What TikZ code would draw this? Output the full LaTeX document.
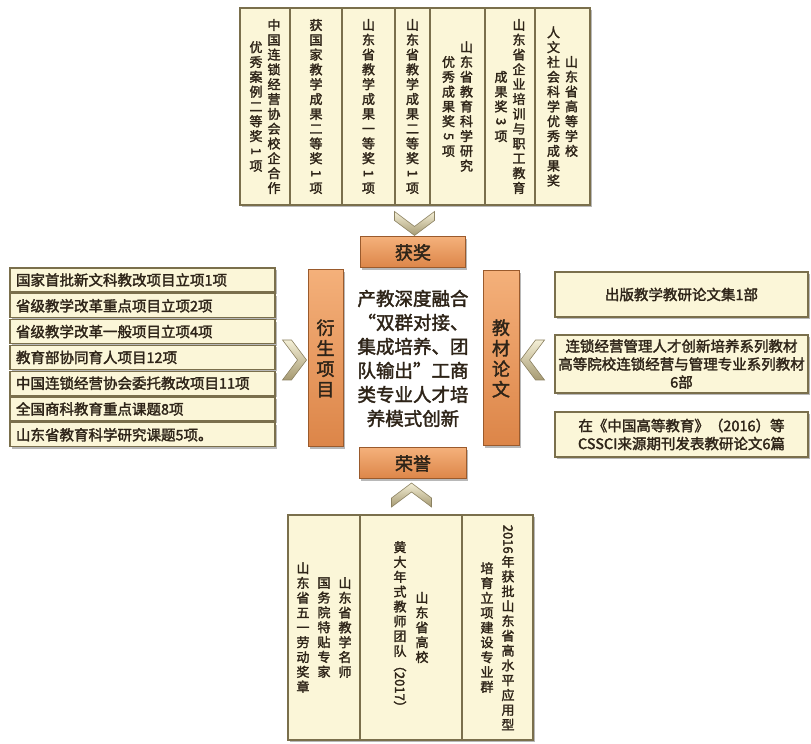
\documentclass[tikz,border=0pt]{standalone}
\usepackage{fontspec}
\setmainfont{Noto Sans CJK SC}[FakeBold=2]
\usepackage{graphicx}
\usetikzlibrary{positioning,calc,shadows,backgrounds}

\definecolor{cream}{HTML}{FBF6D8}
\definecolor{corefill}{HTML}{FDFAE6}
\definecolor{boxline}{HTML}{7A6F4C}
\definecolor{ink}{HTML}{2E2418}
\definecolor{tagtop}{HTML}{F4B07A}
\definecolor{tagbot}{HTML}{DC8548}
\definecolor{tagline}{HTML}{9A5A2C}
\definecolor{chevlight}{HTML}{F4EFD6}
\definecolor{chevdark}{HTML}{A69A72}
\definecolor{chevline}{HTML}{8C8262}

% one upright column of characters, read top to bottom
\makeatletter
\newcommand\vcol[1]{$\vcenter{\baselineskip=1.14em\lineskiplimit=0pt\lineskip=0.15em
  \@tfor\vc@ch:=#1\do{\hbox to 1em{\hss\vc@ch\hss}}}$}
\makeatother
\newcommand\rotd[1]{\rotatebox[origin=c]{-90}{#1}}

\begin{document}
\begin{tikzpicture}[x=1pt,y=1pt]
  \tikzset{paper/.style = {draw=boxline, fill=cream, line width=1.2pt, outer sep=0pt, inner sep=0pt, text=ink,
      drop shadow={shadow xshift=1.5pt, shadow yshift=-2pt, fill=black!55}}}
  \tikzset{prizebox/.style = {paper, minimum height=197pt, font=\fontsize{13}{15}\selectfont}}
  \tikzset{honorbox/.style = {paper, minimum height=225pt, font=\fontsize{13}{15}\selectfont}}
  \tikzset{projbox/.style = {paper, minimum width=265pt, minimum height=24pt, text width=253pt, align=left,
      font=\fontsize{14.5}{17}\selectfont}}
  \tikzset{pubbox/.style = {paper, minimum width=253pt, text width=249pt, align=center,
      font=\fontsize{14.5}{18}\selectfont}}
  \tikzset{coretext/.style = {minimum width=136pt, minimum height=175pt, inner sep=0pt, outer sep=0pt,
      align=center, text=ink, font=\fontsize{18.5}{24}\selectfont}}
  \tikzset{corebox/.style = {draw=boxline, fill=corefill, line width=1.2pt,
      drop shadow={shadow xshift=1.5pt, shadow yshift=-2pt, fill=black!55}}}
  \tikzset{tagbar/.style = {draw=tagline, line width=1pt, top color=tagtop, bottom color=tagbot, text=ink,
      inner sep=0pt, outer sep=0pt, font=\fontsize{18}{20}\selectfont,
      drop shadow={shadow xshift=1.5pt, shadow yshift=-2pt, fill=black!55}}}
  \tikzset{chevron/.pic = {\draw[draw=chevline, line width=0.6pt, top color=chevlight, bottom color=chevdark]
      (-12,20) -- (-3,20) -- (12,0) -- (-3,-20) -- (-12,-20) -- (3,0) -- cycle;}}

  \useasboundingbox[fill=white] (0,0) rectangle (811,744);

  % awards along the top
  \node[prizebox, minimum width=50pt, anchor=west] (prize1) at (240,637.5)
    {\vcol{优秀案例二等奖{\rotd{1}}项}\hspace{5pt}\vcol{中国连锁经营协会校企合作}};
  \node[prizebox, minimum width=52pt, right=0pt of prize1] (prize2) {\vcol{获国家教学成果二等奖{\rotd{1}}项}};
  \node[prizebox, minimum width=53pt, right=0pt of prize2] (prize3) {\vcol{山东省教学成果一等奖{\rotd{1}}项}};
  \node[prizebox, minimum width=35pt, right=0pt of prize3] (prize4) {\vcol{山东省教学成果二等奖{\rotd{1}}项}};
  \node[prizebox, minimum width=55pt, right=0pt of prize4] (prize5)
    {\vcol{优秀成果奖{\rotd{5}}项}\hspace{5pt}\vcol{山东省教育科学研究}};
  \node[prizebox, minimum width=50pt, right=0pt of prize5] (prize6)
    {\vcol{成果奖{\rotd{3}}项}\hspace{5pt}\vcol{山东省企业培训与职工教育}};
  \node[prizebox, minimum width=55pt, right=0pt of prize6] (prize7)
    {\vcol{人文社会科学优秀成果奖}\hspace{5pt}\vcol{山东省高等学校}};

  % honours along the bottom
  \node[honorbox, minimum width=72pt, anchor=west] (honor1) at (288,116.5)
    {\vcol{山东省五一劳动奖章}\hspace{8pt}\vcol{国务院特贴专家}\hspace{8pt}\vcol{山东省教学名师}};
  \node[honorbox, minimum width=102pt, right=0pt of honor1] (honor2)
    {\vcol{黄大年式教师团队{\rotd{（2017）}}}\hspace{9pt}\vcol{山东省高校}};
  \node[honorbox, minimum width=71pt, right=0pt of honor2] (honor3)
    {\vcol{培育立项建设专业群}\hspace{8pt}\vcol{{\rotd{2016}}年获批山东省高水平应用型}};

  % projects on the left
  \node[projbox] (proj1) at (142.5,464) {国家首批新文科教改项目立项1项};
  \node[projbox, below=1.8pt of proj1] (proj2) {省级教学改革重点项目立项2项};
  \node[projbox, below=1.8pt of proj2] (proj3) {省级教学改革一般项目立项4项};
  \node[projbox, below=1.8pt of proj3] (proj4) {教育部协同育人项目12项};
  \node[projbox, below=1.8pt of proj4] (proj5) {中国连锁经营协会委托教改项目11项};
  \node[projbox, below=1.8pt of proj5] (proj6) {全国商科教育重点课题8项};
  \node[projbox, below=1.8pt of proj6] (proj7) {山东省教育科学研究课题5项。};

  % books and papers on the right
  \node[pubbox, minimum height=45pt] (pub1) at (681.5,449.5) {出版教学教研论文集1部};
  \node[pubbox, minimum height=58pt, below=18pt of pub1] (pub2)
    {连锁经营管理人才创新培养系列教材\\高等院校连锁经营与管理专业系列教材\\6部};
  \node[pubbox, minimum height=45pt, below=19pt of pub2] (pub3)
    {在《中国高等教育》（2016）等\\CSSCI来源期刊发表教研论文6篇};

  % centre
  \node[coretext] (core) at (413,385.5)
    {产教深度融合\\“双群对接、\\集成培养、团\\队输出”工商\\类专业人才培\\养模式创新};
  \begin{pgfonlayer}{background}
    \def\notch{9}
    \draw[corebox] ($(core.north west)+(\notch,0)$) -- ($(core.north east)+(-\notch,0)$)
      .. controls ($(core.north east)+(-\notch,-0.55*\notch)$) and ($(core.north east)+(-0.55*\notch,-\notch)$) .. ($(core.north east)+(0,-\notch)$)
      -- ($(core.south east)+(0,\notch)$)
      .. controls ($(core.south east)+(-0.55*\notch,\notch)$) and ($(core.south east)+(-\notch,0.55*\notch)$) .. ($(core.south east)+(-\notch,0)$)
      -- ($(core.south west)+(\notch,0)$)
      .. controls ($(core.south west)+(\notch,0.55*\notch)$) and ($(core.south west)+(0.55*\notch,\notch)$) .. ($(core.south west)+(0,\notch)$)
      -- ($(core.north west)+(0,-\notch)$)
      .. controls ($(core.north west)+(0.55*\notch,-\notch)$) and ($(core.north west)+(\notch,-0.55*\notch)$) .. cycle;
  \end{pgfonlayer}

  \node[tagbar, minimum width=105pt, minimum height=31pt, above=3pt of core] (tagprize) {获奖};
  \node[tagbar, minimum width=107pt, minimum height=31pt, below=2pt of core] (taghonor) {荣誉};
  \node[tagbar, minimum width=35pt, minimum height=177pt, left=2pt of core] (tagproj) {\vcol{衍生项目}};
  \node[tagbar, minimum width=36pt, minimum height=175pt, right=2pt of core] (tagpub) {\vcol{教材论文}};

  \pic[rotate=-90] at (414.5,520.5) {chevron};
  \pic[rotate=90] at (411.5,249) {chevron};
  \pic at (294.5,384) {chevron};
  \pic[rotate=180] at (532.5,384) {chevron};
\end{tikzpicture}
\end{document}
